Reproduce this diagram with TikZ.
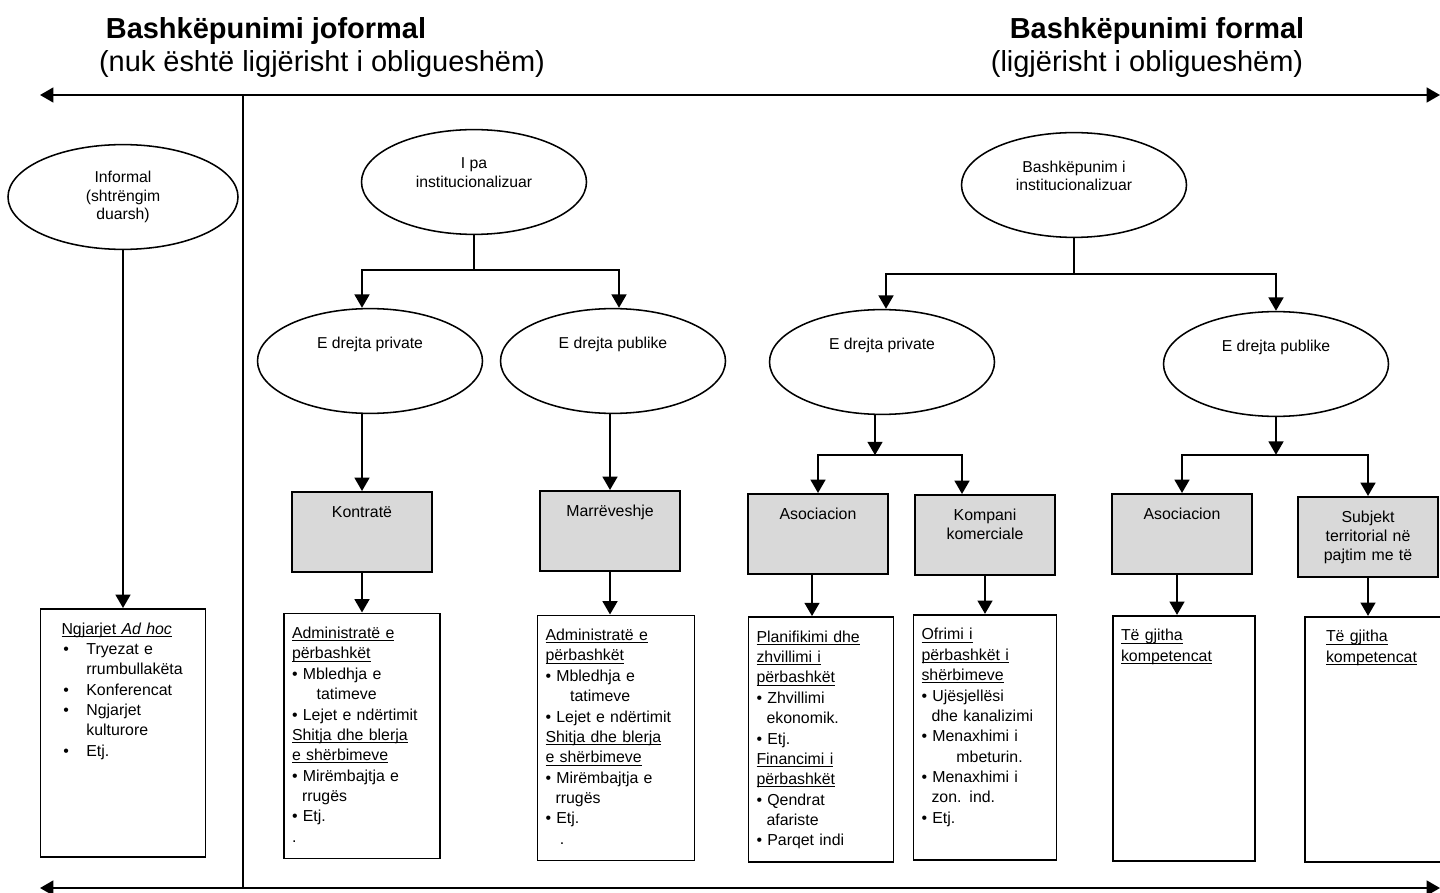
\documentclass[tikz,border=0pt]{standalone}
\usepackage{fontspec}
\setmainfont{Liberation Sans}
\usetikzlibrary{shapes.geometric, arrows.meta, positioning}

\newcommand{\undl}[1]{\underline{\smash{#1}}}
\newcommand{\blt}{\makebox[17.7pt][l]{\hspace{1.4pt}•}}

\tikzstyle{hdr} = [inner sep=0pt, font=\fontsize{20.6}{24}\selectfont]
\tikzstyle{ellbox} = [ellipse, draw=black, line width=1.1pt, minimum width=5.625cm, minimum height=2.62cm, align=center, font=\fontsize{11.2}{13.3}\selectfont]
\tikzstyle{kindbox} = [rectangle, draw=black, line width=1.4pt, fill=gray!30, text width=3.5cm, align=center, text height=0.625cm, text depth=1.375cm, inner xsep=0pt, inner ysep=0pt, font=\fontsize{11.3}{13.8}\selectfont]
\tikzstyle{listbox} = [rectangle, draw=black, line width=1.4pt, fill=white, align=left, inner xsep=0.2cm, inner ysep=0pt, text height=0.625cm, text depth=5.5cm, font=\fontsize{11.3}{14.5}\selectfont]
\tikzstyle{arr} = [line width=1.6pt, ->, >={Triangle[length=9.5pt,width=10.5pt]}]
\tikzstyle{axisline} = [line width=1.6pt, <->, >={Triangle[length=9.5pt,width=10.5pt]}]
\tikzstyle{treeline} = [line width=1pt]
\tikzstyle{sepline} = [line width=0.8pt]

\begin{document}
\begin{tikzpicture}[node distance=2cm]
\useasboundingbox (0,0) rectangle (36,-22.325);

% koka
\node (hJo) [hdr, xshift=6.65cm, yshift=-0.775cm] {\textbf{Bashkëpunimi joformal}};
\node (hJoSub) [hdr, below of=hJo, xshift=1.4cm, yshift=1.175cm] {(nuk është ligjërisht i obligueshëm)};
\node (hFo) [hdr, right of=hJo, xshift=20.275cm] {\textbf{Bashkëpunimi formal}};
\node (hFoSub) [hdr, below of=hFo, xshift=-0.25cm, yshift=1.175cm] {(ligjërisht i obligueshëm)};

\coordinate (topL) at (1.0,-2.375);
\coordinate (topR) at (36,-2.375);
\coordinate (botL) at (1.0,-22.2);
\coordinate (botR) at (36,-22.2);
\coordinate (sepT) at (6.075,-2.375);
\coordinate (sepB) at (6.075,-22.2);

% joformal
\node (inf) [ellbox, minimum width=5.75cm, xshift=3.075cm, yshift=-4.925cm] {Informal\\(shtrëngim\\duarsh)};
\node (adhoc) [listbox, below of=inf, yshift=-11.4cm, inner xsep=0.525cm, text width=3.075cm, text depth=5.575cm] {\undl{Ngjarjet \textit{Ad hoc}}\\
\blt Tryezat e\\
\hspace*{17.7pt}rrumbullakëta\\
\blt Konferencat\\
\blt Ngjarjet\\
\hspace*{17.7pt}kulturore\\
\blt Etj.};

% i pa institucionalizuar
\node (nonInst) [ellbox, right of=inf, xshift=6.775cm, yshift=0.375cm] {I pa\\institucionalizuar\\[0pt]\mbox{}};
\node (priv1) [ellbox, below of=nonInst, xshift=-2.6cm, yshift=-2.475cm] {E drejta private\\[12pt]\mbox{}};
\node (publ1) [ellbox, right of=priv1, xshift=4.075cm] {E drejta publike\\[12pt]\mbox{}};
\node (kontr) [kindbox, below of=priv1, xshift=-0.2cm, yshift=-2.275cm] {Kontratë};
\node (marr) [kindbox, below of=publ1, xshift=-0.075cm, yshift=-2.25cm] {Marrëveshje};
\node (kontrList) [listbox, text width=3.5cm, below of=kontr, yshift=-3.1cm] {\undl{Administratë e}\\
\undl{përbashkët}\\
• Mbledhja e\\
\hspace*{1.55em}tatimeve\\
• Lejet e ndërtimit\\
\undl{Shitja dhe blerja}\\
\undl{e shërbimeve}\\
• Mirëmbajtja e\\
\hspace*{0.63em}rrugës\\
• Etj.\\
.};
\node (marrList) [listbox, text width=3.525cm, below of=marr, xshift=0.15cm, yshift=-3.175cm] {\undl{Administratë e}\\
\undl{përbashkët}\\
• Mbledhja e\\
\hspace*{1.55em}tatimeve\\
• Lejet e ndërtimit\\
\undl{Shitja dhe blerja}\\
\undl{e shërbimeve}\\
• Mirëmbajtja e\\
\hspace*{0.63em}rrugës\\
• Etj.\\
\hspace*{0.9em}.};

% institucionalizuar
\node (inst) [ellbox, right of=nonInst, xshift=13cm, yshift=-0.075cm] {Bashkëpunim i\\institucionalizuar\\[0pt]\mbox{}};
\node (priv2) [ellbox, below of=inst, xshift=-4.8cm, yshift=-2.425cm] {E drejta private\\[12pt]\mbox{}};
\node (publ2) [ellbox, right of=priv2, xshift=7.85cm, yshift=-0.05cm] {E drejta publike\\[12pt]\mbox{}};
\node (asoc1) [kindbox, below of=priv2, xshift=-1.6cm, yshift=-2.3cm] {Asociacion};
\node (komp) [kindbox, right of=asoc1, xshift=2.175cm, yshift=-0.025cm] {Kompani\\komerciale};
\node (asoc2) [kindbox, below of=publ2, xshift=-2.35cm, yshift=-2.25cm] {Asociacion\hspace*{0.5cm}};
\node (subj) [kindbox, right of=asoc2, xshift=2.65cm, yshift=-0.075cm] {Subjekt\\territorial në\\pajtim me të};
\node (asoc1List) [listbox, text width=3.225cm, below of=asoc1, xshift=0.075cm, yshift=-3.14cm] {\undl{Planifikimi dhe}\\
\undl{zhvillimi i}\\
\undl{përbashkët}\\
• Zhvillimi\\
\hspace*{0.63em}ekonomik.\\
• Etj.\\
\undl{Financimi i}\\
\undl{përbashkët}\\
• Qendrat\\
\hspace*{0.63em}afariste\\
• Parqet indi};
\node (kompList) [listbox, text width=3.175cm, below of=komp, yshift=-3.06cm] {\undl{Ofrimi i}\\
\undl{përbashkët i}\\
\undl{shërbimeve}\\
• Ujësjellësi\\
\hspace*{0.63em}dhe kanalizimi\\
• Menaxhimi i\\
\hspace*{2.2em}mbeturin.\\
• Menaxhimi i\\
\hspace*{0.63em}zon. ind.\\
• Etj.};
\node (asoc2List) [listbox, text width=3.15cm, below of=asoc2, xshift=0.05cm, yshift=-3.11cm] {\undl{Të gjitha}\\
\undl{kompetencat}};
\node (subjList) [listbox, inner xsep=0.525cm, text width=2.95cm, below of=subj, xshift=0.425cm, yshift=-3.06cm] {\undl{Të gjitha}\\
\undl{kompetencat}};

% lidhjet
\draw [axisline] (topL) -- (topR);
\draw [axisline] (botL) -- (botR);
\draw [sepline] (sepT) -- (sepB);

\draw [arr] (inf.south) -- (inf.south |- adhoc.north);

\draw [treeline] (nonInst.south) -- ++(0,-0.8625) coordinate (j1);
\draw [arr] (j1) -| ([xshift=-0.2cm]priv1.north);
\draw [arr] (j1) -| ([xshift=0.15cm]publ1.north);
\draw [arr] (priv1.south -| kontr.north) -- (kontr.north);
\draw [arr] (publ1.south -| marr.north) -- (marr.north);
\draw [arr] (kontr.south) -- (kontr.south |- kontrList.north);
\draw [arr] (marr.south) -- (marr.south |- marrList.north);

\draw [treeline] (inst.south) -- ++(0,-0.89) coordinate (j2);
\draw [arr] (j2) -| ([xshift=0.1cm]priv2.north);
\draw [arr] (j2) -| (publ2.north);
\draw [arr] ([xshift=-0.175cm]priv2.south) -- ++(0,-1) coordinate (j3);
\draw [arr] (j3) -| (asoc1.north);
\draw [arr] (j3) -| ([xshift=-0.575cm]komp.north);
\draw [arr] (publ2.south) -- ++(0,-0.94) coordinate (j4);
\draw [arr] (j4) -| (asoc2.north);
\draw [arr] (j4) -| (subj.north);
\draw [arr] ([xshift=-0.15cm]asoc1.south) -- ([xshift=-0.15cm]asoc1.south |- asoc1List.north);
\draw [arr] (komp.south) -- (komp.south |- kompList.north);
\draw [arr] ([xshift=-0.125cm]asoc2.south) -- ([xshift=-0.125cm]asoc2.south |- asoc2List.north);
\draw [arr] (subj.south) -- (subj.south |- subjList.north);

\end{tikzpicture}
\end{document}
